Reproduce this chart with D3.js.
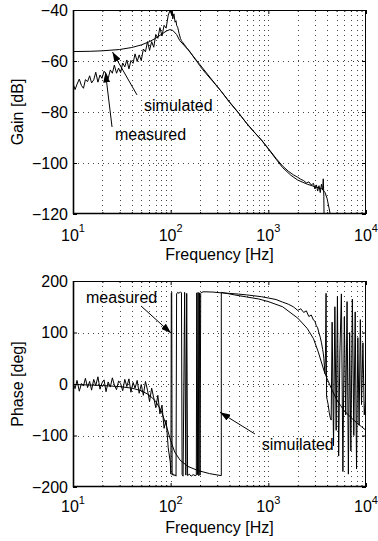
<!DOCTYPE html>
<html>
<head>
<meta charset="utf-8">
<script src="https://cdn.jsdelivr.net/npm/d3@7"></script>
<style>
    body { margin: 0; background: #fff; }
    svg text { font-family: "Liberation Sans", Arial, Helvetica, sans-serif; fill: #000; }
    .grid line { stroke: #444; stroke-width: 1; stroke-dasharray: 1 4; }
    .curve { fill: none; stroke: #000; stroke-width: 1; stroke-linejoin: round; }
</style>
</head>
<body>
<div id="chart-container"></div>
<script>
// measured frequency points [Hz] (shared by measured gain and phase)
const measFreq = [
    // 10 - 100 Hz
    10.0, 10.5, 11.0, 11.6, 12.2, 12.8, 13.4, 14.1, 14.8, 15.5,
    16.3, 17.1, 18.0, 18.9, 19.8, 20.8, 21.8, 22.9, 24.1, 25.3,
    26.5, 27.9, 29.3, 30.7, 32.3, 33.9, 35.6, 37.4, 39.2, 41.2,
    43.2, 45.4, 47.6, 50.0, 52.5, 55.2, 57.9, 60.8, 63.9, 67.1,
    70.4, 73.9, 77.6, 81.5, 85.6, 89.9, 94.4, 99.1,
    // 100 - 212 Hz
    100.5, 101.5, 102.5, 103.5, 105, 108, 111, 113.5, 115, 118,
    122, 126, 129, 131, 134, 139, 143, 146, 149, 155,
    162, 170, 178, 183, 185, 188, 191, 194, 197, 200,
    203, 206, 209, 212,
    // 230 - 3700 Hz
    230, 270, 330, 400, 500, 600, 700, 850, 1000, 1200,
    1400, 1600, 1800, 2000, 2150, 2300, 2450, 2600, 2750, 2900,
    3000, 3100, 3200, 3300, 3400, 3500, 3600, 3650, 3700,
    // 3750 - 10000 Hz
    3750, 3800, 3850, 3900, 3950, 4000, 4100, 4200, 4300, 4400,
    4500, 4650, 4800, 4950, 5100, 5250, 5400, 5600, 5800, 6000,
    6200, 6400, 6600, 6800, 7000, 7250, 7500, 7750, 8000, 8250,
    8500, 8750, 9000, 9300, 9600, 10000
];

// measured gain [dB]
const measGain = [
    -68.8, -71.2, -69.1, -67.1, -69.6, -70.7, -67.3, -68.1, -65.8, -68.6,
    -67.4, -64.4, -68.3, -65.5, -66.8, -64.0, -65.0, -66.9, -63.5, -64.8,
    -61.6, -64.8, -62.8, -64.6, -60.8, -62.3, -59.6, -63.1, -59.8, -60.9,
    -57.2, -60.2, -57.6, -59.8, -55.3, -56.4, -52.4, -55.8, -52.4, -54.6,
    -49.6, -51.1, -46.9, -50.2, -46.0, -47.1, -42.0, -40.0,
    -41.0, -38.5, -42.0, -39.0, -43.5, -41.5, -44.8, -44.2, -46.0, -46.8,
    -49.2, -51.2, -52.0, -52.4, -52.9, -53.7, -54.3, -54.8, -55.2, -56.0,
    -57.0, -58.2, -59.3, -59.9, -60.2, -60.6, -60.9, -61.3, -61.7, -62.0,
    -62.3, -62.7, -63.0, -63.3,
    -64.9, -68.0, -71.9, -76.2, -80.6, -84.4, -87.4, -91.0, -94.3, -98.2,
    -101.2, -103.2, -104.6, -105.6, -106.4, -106.9, -107.8, -107.4, -108.6, -108.0,
    -110.2, -108.6, -111.0, -108.9, -111.6, -108.3, -110.6, -106.2, -113.0,
    -135, null, null, null, null, null, null, null, null, null,
    null, null, null, null, null, null, null, null, null, null,
    null, null, null, null, null, null, null, null, null, null,
    null, null, null, null, null, null
];

// measured phase [deg]
const measPhase = [
    3, -9, 7, -14, 1, -4, 11, -7, 5, -12,
    9, -3, 14, -10, 2, 8, -15, 4, -6, 12,
    -2, -11, 6, 1, -13, 9, -5, 10, -16, 3,
    -8, 7, -18, -1, -22, 5, -12, -34, -8, -27,
    -46, -22, -58, -41, -86, -70, -124, -152,
    -175, 176, 178, -177, -174, -178, -176, -179, 175, 178,
    176, 179, 177, -176, -179, 178, -177, 176, -178, -175,
    -179, -176, -178, -177, 177, -176, 178, -178, 177, -177,
    176, 178, 177, 179,
    179, 178.5, 177, 176, 174.5, 173, 171.5, 169.5, 167, 164,
    159, 155, 150, 143, 146, 139, 142, 131, 134, 124,
    122, 113, 109, 99, 91, 80, 67, 60, 50,
    35, 20, 60, 176, -25, -30, -40, -55, -65, -70,
    120, -120, 150, -90, 170, -140, 60, 175, -170, 130,
    -60, 160, -175, 100, -130, 165, -100, 140, -165, 90,
    -80, 125, -40, 80, -60, -20
];

// simulated gain
const simGainFreq = [
    10, 15, 20, 30, 40, 50, 60, 70, 80, 90,
    98, 105, 115, 124, 150, 200, 300, 400, 500, 600,
    700, 850, 1000, 1200, 1400, 1700, 2000, 2500, 3000, 3500,
    3800, 4000, 4200, 4400
];
const simGain = [
    -56.3, -56.2, -56.0, -55.5, -54.7, -53.7, -52.5, -51.1, -49.6, -48.3,
    -47.7, -48.0, -49.6, -52.0, -55.5, -61.5, -70.0, -76.0, -80.5, -84.5,
    -87.5, -91.0, -94.5, -98.5, -101.8, -104.8, -106.7, -108.3, -109.3, -110.0,
    -111.5, -114.0, -118.0, -122.0
];

// simulated phase (wraps from -180 to +180 at 330 Hz)
const simPhaseFreq = [
    10, 15, 20, 30, 40, 50, 60, 70, 80, 90,
    100, 110, 125, 150, 190, 250, 330, 330, 450, 600,
    800, 1000, 1400, 2000, 2500, 2900, 3250, 3700, 4000, 4500,
    5000, 5500, 6000, 7000, 8000, 9000, 10000
];
const simPhase = [
    -1, -2, -3, -5, -8, -13, -21, -33, -52, -80,
    -110, -132, -148, -160, -168, -174, -178, 178, 173, 169,
    165, 160, 150, 128, 108, 88, 62, 27, 10, -12,
    -30, -42, -52, -65, -75, -83, -90
];

// tick labels
const freqTicks = [10, 100, 1000, 10000];
const freqExponents = ["1", "2", "3", "4"];
const gainTicks = [-120, -100, -80, -60, -40];
const phaseTicks = [-200, -100, 0, 100, 200];

// common horizontal placement
const LEFT = 73;
const RIGHT = 366;

const svg = d3.select("#chart-container")
    .append("svg")
    .attr("width", 378)
    .attr("height", 541);

// arrow head marker
svg.append("defs")
    .append("marker")
    .attr("id", "arrow")
    .attr("markerUnits", "userSpaceOnUse")
    .attr("markerWidth", 10)
    .attr("markerHeight", 7)
    .attr("refX", 10)
    .attr("refY", 3.5)
    .attr("orient", "auto")
    .append("path")
    .attr("d", "M0,0 L10,3.5 L0,7 Z")
    .attr("fill", "#000");

function drawPanel(cfg) {
    const bottom = cfg.top + cfg.height;

    const x = d3.scaleLog().domain([10, 10000]).range([LEFT, RIGHT]);
    const y = d3.scaleLinear().domain(cfg.yDomain).range([bottom, cfg.top]);

    const g = svg.append("g");

    // clip path for the plot area
    g.append("clipPath")
        .attr("id", cfg.id + "-clip")
        .append("rect")
        .attr("x", LEFT)
        .attr("y", cfg.top)
        .attr("width", RIGHT - LEFT)
        .attr("height", cfg.height);

    // dotted grid: every decade and sub-decade vertically, major ticks horizontally
    const grid = g.append("g").attr("class", "grid");
    grid.selectAll(".vx")
        .data(x.ticks().filter(d => d > 10 && d < 10000))
        .enter()
        .append("line")
        .attr("x1", d => Math.round(x(d)) + 0.5)
        .attr("x2", d => Math.round(x(d)) + 0.5)
        .attr("y1", cfg.top)
        .attr("y2", bottom);
    grid.selectAll(".hy")
        .data(cfg.yTicks.slice(1, -1))
        .enter()
        .append("line")
        .attr("x1", LEFT)
        .attr("x2", RIGHT)
        .attr("y1", d => Math.round(y(d)) + 0.5)
        .attr("y2", d => Math.round(y(d)) + 0.5);

    // curves
    const plot = g.append("g").attr("clip-path", `url(#${cfg.id}-clip)`);
    const line = d3.line()
        .defined(d => d[1] !== null)
        .x(d => x(d[0]))
        .y(d => y(d[1]));
    plot.append("path")
        .attr("class", "curve")
        .attr("d", line(cfg.simFreq.map((f, i) => [f, cfg.simValues[i]])));
    plot.append("path")
        .attr("class", "curve")
        .attr("d", line(measFreq.map((f, i) => [f, cfg.measValues[i]])));

    // axes with inner ticks
    const minorTicks = x.ticks().filter(d => freqTicks.indexOf(d) < 0);
    const axes = [
        [d3.axisBottom(x).tickValues(freqTicks).tickSize(-4), `translate(0,${bottom})`],
        [d3.axisBottom(x).tickValues(minorTicks).tickSize(-2), `translate(0,${bottom})`],
        [d3.axisTop(x).tickValues(freqTicks).tickSize(-4), `translate(0,${cfg.top})`],
        [d3.axisTop(x).tickValues(minorTicks).tickSize(-2), `translate(0,${cfg.top})`],
        [d3.axisRight(y).tickValues(cfg.yTicks).tickSize(-4), `translate(${RIGHT},0)`],
    ];
    axes.forEach(([axis, tr]) => {
        g.append("g")
            .attr("transform", tr)
            .call(axis.tickFormat(""))
            .call(s => s.select(".domain").remove());
    });

    // left axis with labels
    g.append("g")
        .attr("transform", `translate(${LEFT},0)`)
        .call(d3.axisLeft(y).tickValues(cfg.yTicks).tickSize(-4).tickPadding(5).tickFormat(d3.format("d")))
        .call(s => s.select(".domain").remove())
        .attr("font-size", 16)
        .attr("font-family", null);

    // frequency tick labels with exponents
    const xl = g.selectAll(".xlab")
        .data(freqTicks)
        .enter()
        .append("text")
        .attr("x", d => x(d))
        .attr("y", bottom + cfg.tickLabelOffset)
        .attr("text-anchor", "middle")
        .attr("font-size", 16);
    xl.append("tspan").text("10");
    xl.append("tspan")
        .attr("font-size", 11)
        .attr("dy", -8.5)
        .text((d, i) => freqExponents[i]);

    // frame
    g.append("rect")
        .attr("x", LEFT + 0.5)
        .attr("y", cfg.top + 0.5)
        .attr("width", RIGHT - LEFT - 1)
        .attr("height", cfg.height - 1)
        .attr("fill", "none")
        .attr("stroke", "#000")
        .attr("stroke-width", 1);
    g.append("path")
        .attr("d", `M${LEFT + 0.5},${cfg.top} V${bottom - 0.5} H${RIGHT}`)
        .attr("fill", "none")
        .attr("stroke", "#000")
        .attr("stroke-width", 1.6);

    // axis titles
    g.append("text")
        .attr("x", (LEFT + RIGHT) / 2)
        .attr("y", bottom + 45.5)
        .attr("text-anchor", "middle")
        .attr("font-size", 16)
        .text("Frequency [Hz]");
    g.append("text")
        .attr("transform", `translate(23,${cfg.top + cfg.height / 2}) rotate(-90)`)
        .attr("text-anchor", "middle")
        .attr("font-size", 16)
        .text(cfg.yLabel);

    // annotations with arrows (positions in data units)
    cfg.notes.forEach(n => {
        g.append("line")
            .attr("x1", x(n.from[0]))
            .attr("y1", y(n.from[1]))
            .attr("x2", x(n.to[0]))
            .attr("y2", y(n.to[1]))
            .attr("stroke", "#000")
            .attr("stroke-width", 1)
            .attr("marker-end", "url(#arrow)");
        g.append("text")
            .attr("x", x(n.at[0]))
            .attr("y", y(n.at[1]))
            .attr("font-size", 16)
            .text(n.text);
    });
}

window.onload = () => {
    drawPanel({
        id: "gain",
        top: 10,
        height: 204,
        yDomain: [-120, -40],
        yTicks: gainTicks,
        yLabel: "Gain [dB]",
        tickLabelOffset: 26.5,
        simFreq: simGainFreq,
        simValues: simGain,
        measValues: measGain,
        notes: [
            { text: "simulated", at: [53.4, -79.8], from: [45.2, -73.3], to: [25.4, -56.5] },
            { text: "measured", at: [26.9, -91], from: [25.1, -85.9], to: [21.5, -64.5] },
        ],
    });
    drawPanel({
        id: "phase",
        top: 281,
        height: 206,
        yDomain: [-200, 200],
        yTicks: phaseTicks,
        yLabel: "Phase [deg]",
        tickLabelOffset: 25,
        simFreq: simPhaseFreq,
        simValues: simPhase,
        measValues: measPhase,
        notes: [
            { text: "measured", at: [13.6, 157], from: [49.7, 151.5], to: [100.7, 99] },
            { text: "simuilated", at: [855, -128], from: [729, -97], to: [320, -55] },
        ],
    });
};
</script>
</body>
</html>
